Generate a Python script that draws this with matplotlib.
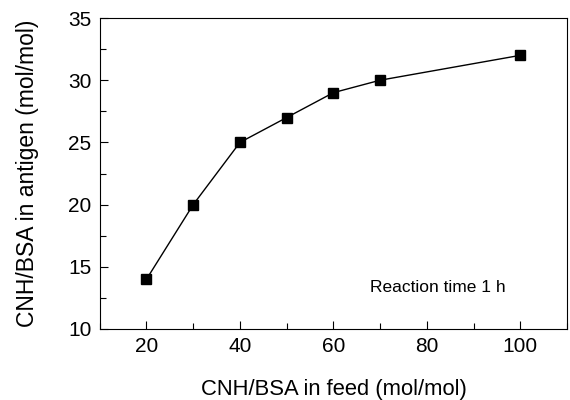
import matplotlib
matplotlib.use("Agg")
import matplotlib.pyplot as plt
from matplotlib.ticker import MultipleLocator

plt.rcParams['font.family'] = ['Liberation Sans', 'DejaVu Sans']

# Données
ratio_feed = [20, 30, 40, 50, 60, 70, 100]
ratio_antigen = [14, 20, 25, 27, 29, 30, 32]

fig = plt.figure(figsize=(5.7, 4.0), dpi=100)
ax = fig.add_axes([0.175, 0.1775, 0.82, 0.7775])

ax.plot(ratio_feed, ratio_antigen, color="black", linewidth=1.0,
        marker="s", markersize=6.5)

ax.set_xlim(10, 110)
ax.set_ylim(10, 35)
ax.xaxis.set_major_locator(MultipleLocator(20))
ax.xaxis.set_minor_locator(MultipleLocator(10))
ax.yaxis.set_major_locator(MultipleLocator(5))
ax.yaxis.set_minor_locator(MultipleLocator(2.5))
ax.tick_params(which="both", direction="in", top=False, right=False, labelsize=15)
ax.tick_params(which="major", length=6, width=0.8, pad=6)
ax.tick_params(which="minor", length=4, width=0.8)

ax.set_xlabel("CNH/BSA in feed (mol/mol)", fontsize=15.8, labelpad=16)
ax.set_ylabel("CNH/BSA in antigen (mol/mol)", fontsize=16.5, labelpad=21)

ax.text(82.4, 13.3, "Reaction time 1 h", fontsize=12.5, ha="center", va="center")

fig.savefig("out.png", dpi=100)
